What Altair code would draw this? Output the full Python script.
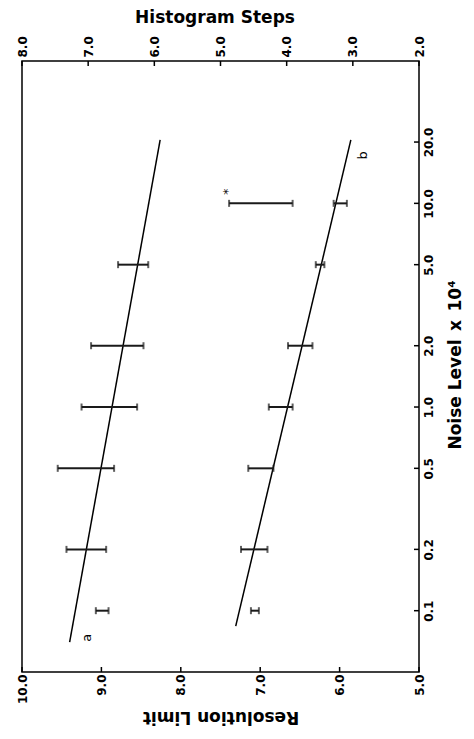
import altair as alt
import pandas as pd

# ---- data ----
noise_ticks = [0.1, 0.2, 0.5, 1.0, 2.0, 5.0, 10.0, 20.0]
res_ticks = [5.0, 6.0, 7.0, 8.0, 9.0, 10.0]
hist_ticks = [2.0, 3.0, 4.0, 5.0, 6.0, 7.0, 8.0]

# series a  (Resolution Limit)
a_noise = [0.1, 0.2, 0.5, 1.0, 2.0, 5.0]
a_low = [8.91, 8.94, 8.84, 8.55, 8.47, 8.41]
a_high = [9.07, 9.44, 9.55, 9.25, 9.13, 8.79]
a_fit_noise = [0.07, 20.5]
a_fit_res = [9.40, 8.26]

# series b  (Histogram Steps)
b_noise = [0.1, 0.2, 0.5, 1.0, 2.0, 5.0, 10.0]
b_low = [4.42, 4.29, 4.20, 3.91, 3.61, 3.43, 3.09]
b_high = [4.54, 4.69, 4.58, 4.27, 3.98, 3.56, 3.29]
b_star_noise = [10.0]
b_star_low = [3.91]
b_star_high = [4.87]
b_fit_noise = [0.084, 20.5]
b_fit_hist = [4.77, 3.03]

labels_a = {"txt": ["a"], "noise": [0.0736], "res": [9.18]}
labels_b = {"txt": ["b", "*"], "noise": [17.2, 11.4], "hist": [2.85, 4.89]}

W, H = 397, 611
FONT = "DejaVu Sans"

y_axis = alt.Axis(
    orient="right", values=noise_ticks, format=".1f", ticks=False, domain=False,
    grid=False, labelAngle=270, labelAlign="center", labelBaseline="top",
    labelPadding=4, labelFont=FONT, labelFontWeight="bold", labelFontSize=12,
    labelColor="black",
    title="Noise Level\u2002x\u200210\u2074", titleFont=FONT, titleFontWeight="bold",
    titleFontSize=17, titleAngle=270, titleAlign="center", titleBaseline="alphabetic",
    titleX=41, titleY=H / 2 - 2, titleColor="black",
)
y_scale = alt.Scale(type="log", domain=[0.05, 50], nice=False)

res_axis = alt.Axis(
    orient="bottom", values=res_ticks, format=".1f", ticks=False, domain=False,
    grid=False, labelAngle=270, labelAlign="right", labelBaseline="middle",
    labelPadding=2, labelFont=FONT, labelFontWeight="bold", labelFontSize=12,
    labelColor="black",
    title="Resolution Limit", titleFont=FONT, titleFontWeight="bold",
    titleFontSize=17, titleAngle=180, titleAlign="center", titleBaseline="alphabetic",
    titleX=W / 2 - 0, titleY=39, titleColor="black",
)
res_scale = alt.Scale(domain=[5, 10], reverse=True, nice=False, zero=False)

hist_axis = alt.Axis(
    orient="top", values=hist_ticks, format=".1f", ticks=False, domain=False,
    grid=False, labelAngle=270, labelAlign="left", labelBaseline="middle",
    labelPadding=4, labelFont=FONT, labelFontWeight="bold", labelFontSize=12,
    labelColor="black",
    title="Histogram Steps", titleFont=FONT, titleFontWeight="bold",
    titleFontSize=17, titleAngle=0, titleAlign="center", titleBaseline="alphabetic",
    titleX=W / 2 - 6, titleY=-39, titleColor="black",
)
hist_scale = alt.Scale(domain=[2, 8], reverse=True, nice=False, zero=False)

Y = lambda: alt.Y("noise:Q", scale=y_scale, axis=y_axis)
XR = lambda f="res": alt.X(f"{f}:Q", scale=res_scale, axis=res_axis)
XH = lambda f="hist": alt.X(f"{f}:Q", scale=hist_scale, axis=hist_axis)

# ---- group A: resolution limit ----
a_fit = pd.DataFrame({"noise": a_fit_noise, "res": a_fit_res})
a_err = pd.DataFrame({"noise": a_noise, "res": a_low, "res2": a_high})
a_caps = pd.DataFrame({"noise": a_noise * 2, "res": a_low + a_high})
res_tick_df = pd.DataFrame({"res": res_ticks})
noise_tick_df = pd.DataFrame({"noise": noise_ticks})

la = alt.Chart(a_fit).mark_line(color="black", strokeWidth=1.5).encode(x=XR(), y=Y())
ea = alt.Chart(a_err).mark_rule(color="#1a1a1a", strokeWidth=2).encode(
    x=XR(), x2="res2:Q", y=Y())
ca = alt.Chart(a_caps).mark_tick(orient="vertical", size=7, thickness=2, color="#1a1a1a").encode(
    x=XR(), y=Y())
ta = alt.Chart(pd.DataFrame(labels_a)).mark_text(
    angle=270, font=FONT, fontSize=13, color="black").encode(x=XR(), y=Y(), text="txt:N")
tick_bottom = alt.Chart(res_tick_df).mark_rule(color="black", strokeWidth=1.5).encode(
    x=XR(), y=alt.value(H), y2=alt.value(H - 5))
tick_right = alt.Chart(noise_tick_df).mark_rule(color="black", strokeWidth=1.5).encode(
    y=Y(), x=alt.value(W), x2=alt.value(W - 5))

group_a = alt.layer(la, ea, ca, ta, tick_bottom, tick_right)

# ---- group B: histogram steps ----
b_fit = pd.DataFrame({"noise": b_fit_noise, "hist": b_fit_hist})
b_err = pd.DataFrame({"noise": b_noise + b_star_noise,
                      "hist": b_low + b_star_low, "hist2": b_high + b_star_high})
b_caps = pd.DataFrame({"noise": (b_noise + b_star_noise) * 2,
                       "hist": b_low + b_star_low + b_high + b_star_high})
hist_tick_df = pd.DataFrame({"hist": hist_ticks})

lb = alt.Chart(b_fit).mark_line(color="black", strokeWidth=1.5).encode(x=XH(), y=Y())
eb = alt.Chart(b_err).mark_rule(color="#1a1a1a", strokeWidth=2).encode(
    x=XH(), x2="hist2:Q", y=Y())
cb = alt.Chart(b_caps).mark_tick(orient="vertical", size=7, thickness=2, color="#1a1a1a").encode(
    x=XH(), y=Y())
tb = alt.Chart(pd.DataFrame(labels_b)).mark_text(
    angle=270, font=FONT, fontSize=13, color="black").encode(x=XH(), y=Y(), text="txt:N")
tick_top = alt.Chart(hist_tick_df).mark_rule(color="black", strokeWidth=1.5).encode(
    x=XH(), y=alt.value(0), y2=alt.value(5))

group_b = alt.layer(lb, eb, cb, tb, tick_top)

chart = (
    alt.layer(group_a, group_b)
    .resolve_scale(x="independent")
    .resolve_axis(x="independent")
    .properties(
        width=W, height=H,
        autosize=alt.AutoSizeParams(type="none"),
        padding={"left": 14, "top": 53, "right": 45, "bottom": 55},
        background="white",
    )
    .configure_view(stroke="black", strokeWidth=1.5)
)

chart.save("out.html", embed_options={"renderer": "svg", "actions": False})
